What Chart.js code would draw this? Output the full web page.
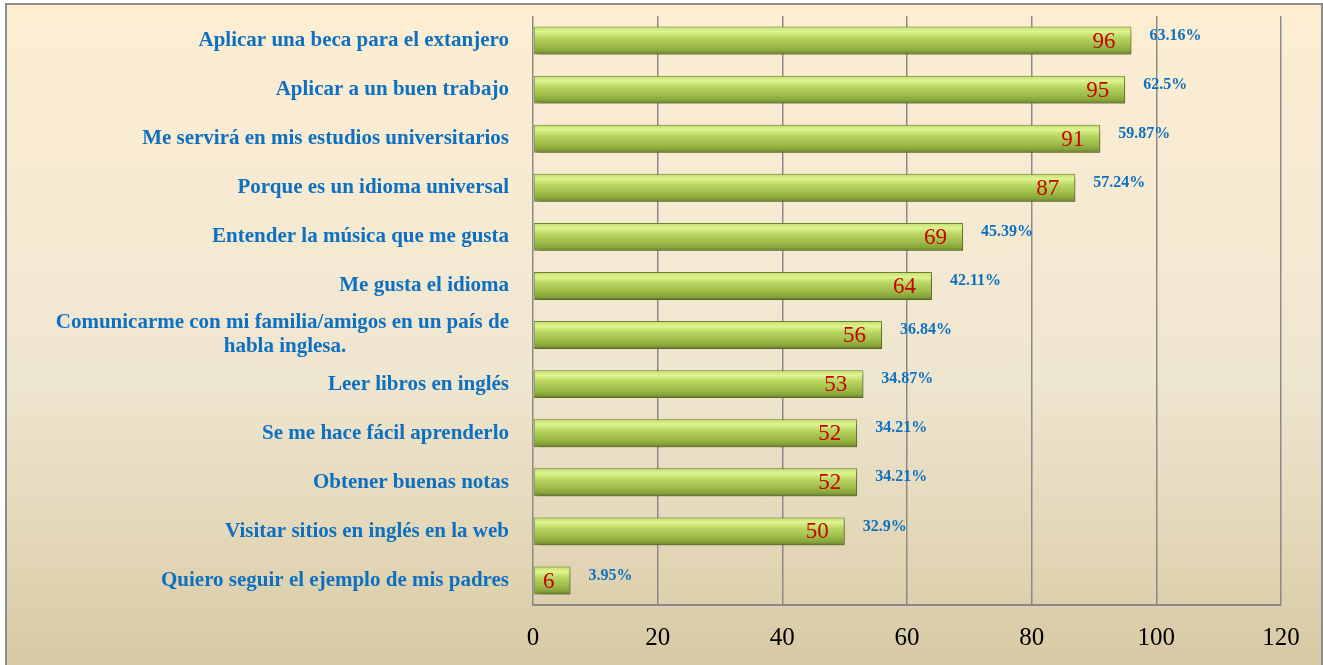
<!DOCTYPE html>
<html lang="es">

<head>
    <meta charset="UTF-8">
    <title>Razones para aprender inglés</title>
    <script src="https://cdn.jsdelivr.net/npm/chart.js@4.4.1/dist/chart.umd.min.js"></script>
    <style>
        html, body { margin: 0; padding: 0; background: #ffffff; }
        #frame {
            position: absolute; left: 5px; top: 3px; width: 1314px; height: 680px;
            border: 2px solid #8c8c8c;
            background: linear-gradient(to bottom, #fdeed2 0%, #f6ead2 30%, #efe6d0 55%, #e2d6b6 80%, #d6c7a1 100%);
        }
        #wrap { position: absolute; left: 0; top: 0; width: 1323px; height: 665px; }
    </style>
</head>

<body>
    <div id="frame"></div>
    <div id="wrap"><canvas id="chart" width="1323" height="665"></canvas></div>

    <script>
        const categories = [
            'Aplicar una beca para el extanjero',
            'Aplicar a un buen trabajo',
            'Me servirá en mis estudios universitarios',
            'Porque es un idioma universal',
            'Entender la música que me gusta',
            'Me gusta el idioma',
            ['Comunicarme con mi familia/amigos en un país de', 'habla inglesa.'],
            'Leer libros en inglés',
            'Se me hace fácil aprenderlo',
            'Obtener buenas notas',
            'Visitar sitios en inglés en la web',
            'Quiero seguir el ejemplo de mis padres'
        ];
        const counts = [96, 95, 91, 87, 69, 64, 56, 53, 52, 52, 50, 6];
        const pctLabels = ['63.16%', '62.5%', '59.87%', '57.24%', '45.39%', '42.11%',
            '36.84%', '34.87%', '34.21%', '34.21%', '32.9%', '3.95%'];
        const xTicks = [0, 20, 40, 60, 80, 100, 120];

        const serif = '"Liberation Serif", "Times New Roman", serif';
        const labelFont = { family: serif, size: 21, weight: 'bold', lineHeight: 1.14 };

        // centre the second line of a two-line label under the first one
        const measure = document.createElement('canvas').getContext('2d');
        measure.font = 'bold ' + labelFont.size + 'px ' + serif;
        const yLabels = categories.map(c => {
            if (!Array.isArray(c)) return c;
            const w0 = measure.measureText(c[0]).width;
            let second = c[1];
            while (measure.measureText(second + ' ').width <= (w0 + measure.measureText(c[1]).width) / 2) {
                second += '\u00a0';
            }
            return [c[0], second];
        });

        function barGradient(ctx) {
            const chart = ctx.chart;
            const y = chart.scales.y;
            if (!y || ctx.dataIndex === undefined) return '#a5c24e';
            const cy = y.getPixelForValue(ctx.dataIndex);
            if (!isFinite(cy)) return '#a5c24e';
            const g = chart.ctx.createLinearGradient(0, cy - 14, 0, cy + 14);
            g.addColorStop(0, '#c2da6e');
            g.addColorStop(0.18, '#def590');
            g.addColorStop(0.4, '#b9d660');
            g.addColorStop(0.7, '#9dbb48');
            g.addColorStop(0.88, '#86a43a');
            g.addColorStop(1, '#62792a');
            return g;
        }

        const barShadow = {
            id: 'barShadow',
            beforeDatasetsDraw(chart) {
                const c = chart.ctx;
                c.save();
                c.shadowColor = 'rgba(60, 50, 20, 0.45)';
                c.shadowBlur = 4;
                c.shadowOffsetX = 3;
                c.shadowOffsetY = 3;
            },
            afterDatasetsDraw(chart) {
                chart.ctx.restore();
            }
        };

        const barLabels = {
            id: 'barLabels',
            afterDatasetsDraw(chart) {
                const c = chart.ctx;
                const meta = chart.getDatasetMeta(0);
                c.save();
                c.textBaseline = 'middle';
                meta.data.forEach((bar, i) => {
                    c.font = '23px ' + serif;
                    c.fillStyle = '#c80000';
                    c.textAlign = 'right';
                    c.fillText(String(counts[i]), bar.x - 16, bar.y + 1);
                    c.font = 'bold 16px ' + serif;
                    c.fillStyle = '#0e70c1';
                    c.textAlign = 'left';
                    c.fillText(pctLabels[i], bar.x + 18, bar.y - 5);
                });
                c.restore();
            }
        };

        new Chart(document.getElementById('chart'), {
            type: 'bar',
            data: {
                labels: yLabels,
                datasets: [{
                    data: counts,
                    backgroundColor: barGradient,
                    borderColor: '#6a842c',
                    borderWidth: 1,
                    borderSkipped: false,
                    barPercentage: 0.57,
                    categoryPercentage: 1
                }]
            },
            options: {
                indexAxis: 'y',
                responsive: false,
                animation: false,
                layout: { autoPadding: false, padding: { left: 6, top: 16, right: 42, bottom: 13 } },
                plugins: { legend: { display: false }, tooltip: { enabled: false } },
                scales: {
                    x: {
                        min: 0,
                        max: 120,
                        afterBuildTicks: s => { s.ticks = xTicks.map(v => ({ value: v })); },
                        afterFit: s => { s.height = 47; s.paddingLeft = 0; s.paddingRight = 0; },
                        grid: { color: '#8a8a8a', lineWidth: 1.5, drawTicks: false },
                        border: { display: true, color: '#8a8a8a', width: 2 },
                        ticks: { color: '#000000', padding: 18, font: { family: serif, size: 25, lineHeight: 1.2 } }
                    },
                    y: {
                        afterFit: s => { s.width = 527; s.paddingTop = 0; s.paddingBottom = 0; },
                        grid: { display: false },
                        border: { display: false },
                        ticks: { color: '#0e70c1', padding: 16, font: labelFont, autoSkip: false }
                    }
                }
            },
            plugins: [barShadow, barLabels]
        });
    </script>
</body>

</html>
